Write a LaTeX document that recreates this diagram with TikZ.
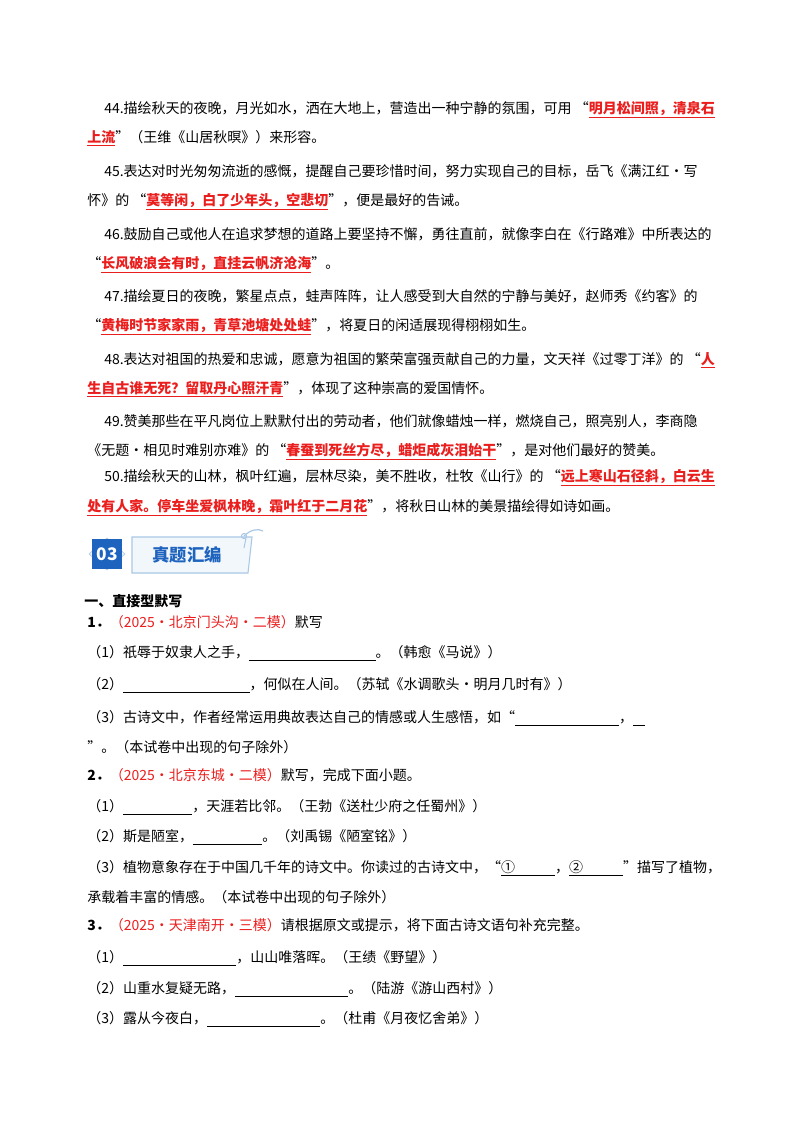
\documentclass[tikz,border=0pt]{standalone}
\usepackage{fontspec}
\setmainfont{Noto Sans CJK SC}
\usepackage{xcolor}
\definecolor{rd}{RGB}{235,30,30}
\definecolor{hb}{RGB}{30,100,190}
\definecolor{hl}{RGB}{170,200,230}
\newcommand{\rdq}[1]{{\color{rd}\bfseries\underline{#1}}}
\newcommand{\src}[1]{{\color{rd}#1}}
\newcommand{\bl}[1]{\rule[-2.5pt]{#1}{0.6pt}}
\begin{document}
\begin{tikzpicture}[x=0.75pt,y=-0.75pt,
  ln/.style={anchor=base west,inner sep=0pt,font=\fontsize{10.5pt}{12pt}\selectfont}]
\useasboundingbox (0,0) rectangle (800,1132);
\fill[white] (0,0) rectangle (800,1132);
% section 44-50
\node[ln] (l1) at (104,113) {44.描绘秋天的夜晚，月光如水，洒在大地上，营造出一种宁静的氛围，可用 “\rdq{明月松间照，清泉石}};
\node[ln] (l2) at (87,142) {\rdq{上流}”（王维《山居秋暝》）来形容。};
\node[ln] (l3) at (104,176) {45.表达对时光匆匆流逝的感慨，提醒自己要珍惜时间，努力实现自己的目标，岳飞《满江红·写};
\node[ln] (l4) at (87,205) {怀》的 “\rdq{莫等闲，白了少年头，空悲切}”，便是最好的告诫。};
\node[ln] (l5) at (104,239) {46.鼓励自己或他人在追求梦想的道路上要坚持不懈，勇往直前，就像李白在《行路难》中所表达的};
\node[ln] (l6) at (87,268) {“\rdq{长风破浪会有时，直挂云帆济沧海}”。};
\node[ln] (l7) at (104,301) {47.描绘夏日的夜晚，繁星点点，蛙声阵阵，让人感受到大自然的宁静与美好，赵师秀《约客》的};
\node[ln] (l8) at (87,330) {“\rdq{黄梅时节家家雨，青草池塘处处蛙}”，将夏日的闲适展现得栩栩如生。};
\node[ln] (l9) at (104,364) {48.表达对祖国的热爱和忠诚，愿意为祖国的繁荣富强贡献自己的力量，文天祥《过零丁洋》的 “\rdq{人}};
\node[ln] (l10) at (87,393) {\rdq{生自古谁无死？留取丹心照汗青}”，体现了这种崇高的爱国情怀。};
\node[ln] (l11) at (104,426) {49.赞美那些在平凡岗位上默默付出的劳动者，他们就像蜡烛一样，燃烧自己，照亮别人，李商隐};
\node[ln] (l12) at (87,455) {《无题·相见时难别亦难》的 “\rdq{春蚕到死丝方尽，蜡炬成灰泪始干}”，是对他们最好的赞美。};
\node[ln] (l13) at (104,481) {50.描绘秋天的山林，枫叶红遍，层林尽染，美不胜收，杜牧《山行》的 “\rdq{远上寒山石径斜，白云生}};
\node[ln] (l14) at (87,511) {\rdq{处有人家。停车坐爱枫林晚，霜叶红于二月花}”，将秋日山林的美景描绘得如诗如画。};
% header graphic
\draw[hl,fill=hl!25] (107,538) -- (125,554) -- (107,570) -- (89,554) -- cycle;
\fill[hb] (92,539) rectangle (122,569);
\node[font=\bfseries\fontsize{13pt}{13pt}\selectfont,text=white] (h03) at (107,554) {03};
\draw[hl,fill=hl!15,line width=0.8pt] (132,537) -- (252,537) -- (248,573) -- (132,573) -- cycle;
\node[font=\bfseries\fontsize{13pt}{13pt}\selectfont,text=hb] (ht) at (187,555) {真题汇编};
\draw[hl,line width=0.9pt] (244,536) .. controls (250,530) and (258,528) .. (263,531);
\draw[hl,line width=0.8pt] (244,536) circle (2.5);
\draw[hl,line width=0.8pt] (246,538) -- (244,548);
% questions
\node[ln,font=\bfseries\fontsize{10.5pt}{12pt}\selectfont] (s1) at (84,606) {一、直接型默写};
\node[ln] (q1) at (87,627) {\textbf{1．}\src{（2025·北京门头沟·二模）}默写};
\node[ln] (q11) at (87,657) {（1）祇辱于奴隶人之手，\bl{95pt}。（韩愈《马说》）};
\node[ln] (q12) at (87,689) {（2）\bl{95pt}，何似在人间。（苏轼《水调歌头·明月几时有》）};
\node[ln] (q13) at (87,722) {（3）古诗文中，作者经常运用典故表达自己的情感或人生感悟，如“\bl{78pt}，\bl{9pt}};
\node[ln] (q13b) at (87,752) {”。（本试卷中出现的句子除外）};
\node[ln] (q2) at (87,780) {\textbf{2．}\src{（2025·北京东城·二模）}默写，完成下面小题。};
\node[ln] (q21) at (87,811) {（1）\bl{52pt}，天涯若比邻。（王勃《送杜少府之任蜀州》）};
\node[ln] (q22) at (87,841) {（2）斯是陋室，\bl{52pt}。（刘禹锡《陋室铭》）};
\node[ln] (q23) at (87,872) {（3）植物意象存在于中国几千年的诗文中。你读过的古诗文中，“\underline{①\hspace{30pt}}，\underline{②\hspace{30pt}}”描写了植物，};
\node[ln] (q23b) at (87,902) {承载着丰富的情感。（本试卷中出现的句子除外）};
\node[ln] (q3) at (87,930) {\textbf{3．}\src{（2025·天津南开·三模）}请根据原文或提示，将下面古诗文语句补充完整。};
\node[ln] (q31) at (87,962) {（1）\bl{85pt}，山山唯落晖。（王绩《野望》）};
\node[ln] (q32) at (87,993) {（2）山重水复疑无路，\bl{85pt}。（陆游《游山西村》）};
\node[ln] (q33) at (87,1023) {（3）露从今夜白，\bl{85pt}。（杜甫《月夜忆舍弟》）};
\end{tikzpicture}
\end{document}
